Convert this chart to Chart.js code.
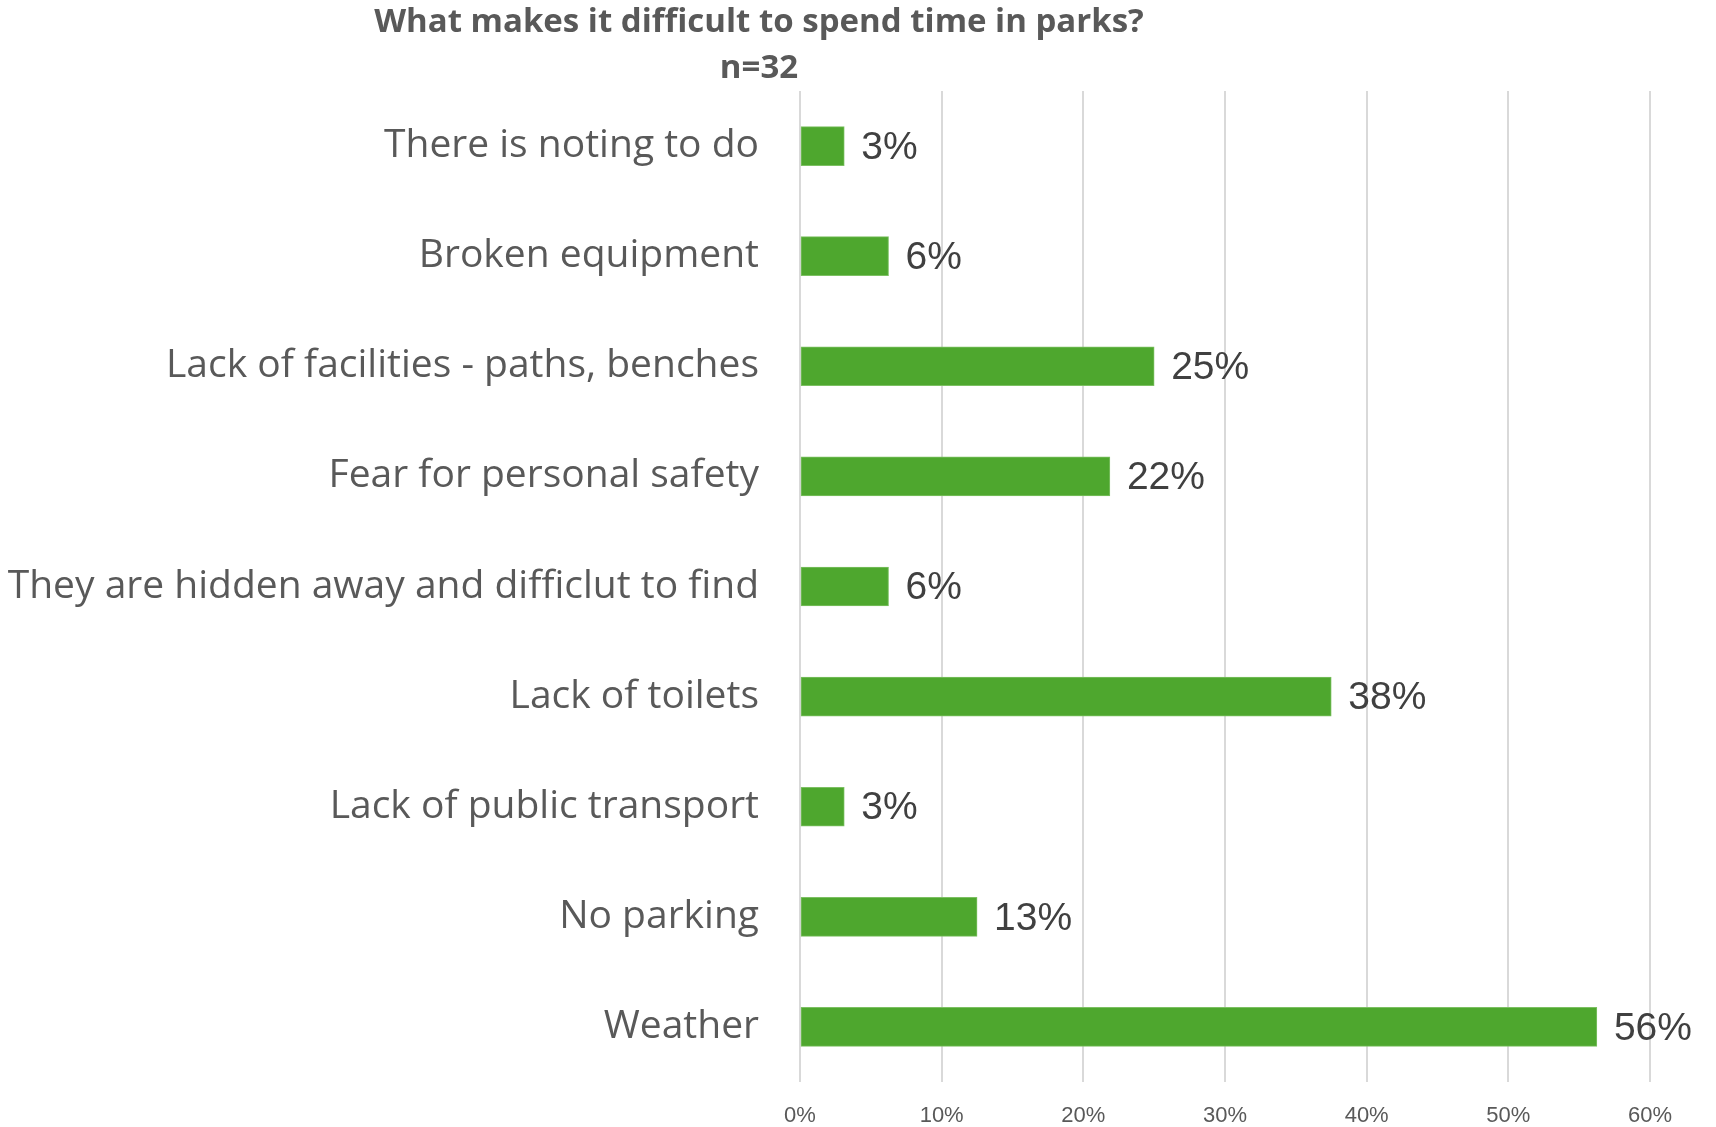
<!DOCTYPE html>
<html>
<head>
<meta charset="utf-8">
<title>What makes it difficult to spend time in parks?</title>
<script src="https://cdn.jsdelivr.net/npm/chart.js@4"></script>
<style>
    body { margin: 0; background: #fff; }
    canvas { display: block; }
</style>
</head>
<body>
<canvas id="parksChart" width="1716" height="1127"></canvas>
<script>
// Survey answers, share of respondents in %
var categories = [
    'There is noting to do',
    'Broken equipment',
    'Lack of facilities - paths, benches',
    'Fear for personal safety',
    'They are hidden away and difficlut to find',
    'Lack of toilets',
    'Lack of public transport',
    'No parking',
    'Weather'
];
var shares = [3.125, 6.25, 25, 21.875, 6.25, 37.5, 3.125, 12.5, 56.25];
var xTicks = [0, 10, 20, 30, 40, 50, 60];
var titleLines = ['What makes it difficult to spend time in parks?', 'n=32'];

var labelFont = '"Open Sans", "Noto Sans", sans-serif';

// Title, placed like the original (not centered on the canvas)
var titlePlugin = {
    id: 'sheetTitle',
    afterDraw: function(chart) {
        var ctx = chart.ctx;
        ctx.save();
        ctx.fillStyle = '#595959';
        ctx.font = 'bold 33px ' + labelFont;
        ctx.textAlign = 'center';
        ctx.textBaseline = 'alphabetic';
        ctx.fillText(titleLines[0], 759, 32);
        ctx.fillText(titleLines[1], 759, 78);
        ctx.restore();
    }
};

// Value labels at the end of each bar
var valueLabels = {
    id: 'valueLabels',
    afterDatasetsDraw: function(chart) {
        var ctx = chart.ctx;
        var meta = chart.getDatasetMeta(0);
        ctx.save();
        ctx.fillStyle = '#404040';
        ctx.font = '39px "Liberation Sans", Arial, sans-serif';
        ctx.textAlign = 'left';
        ctx.textBaseline = 'middle';
        meta.data.forEach(function(bar, i) {
            ctx.fillText(Math.round(shares[i]) + '%', bar.x + 17, bar.y + 2);
        });
        ctx.restore();
    }
};

var ctx = document.getElementById('parksChart').getContext('2d');
var parksChart = new Chart(ctx, {
    type: 'bar',
    data: {
        labels: categories,
        datasets: [{
            data: shares,
            backgroundColor: '#4ea72e',
            borderColor: '#7cc062',
            borderWidth: 1,
            borderSkipped: false,
            barThickness: 39
        }]
    },
    options: {
        indexAxis: 'y',
        responsive: false,
        animation: false,
        layout: {
            padding: { top: 91, right: 66, left: 0, bottom: 0 }
        },
        plugins: {
            legend: { display: false },
            tooltip: { enabled: false }
        },
        scales: {
            x: {
                min: xTicks[0],
                max: xTicks[xTicks.length - 1],
                afterBuildTicks: function(scale) {
                    scale.ticks = xTicks.map(function(v) { return { value: v }; });
                },
                afterFit: function(scale) {
                    scale.height = 45;
                    scale.paddingLeft = 0;
                    scale.paddingRight = 0;
                },
                grid: {
                    color: '#d9d9d9',
                    lineWidth: 2,
                    drawTicks: false
                },
                border: { display: false },
                ticks: {
                    padding: 21,
                    color: '#595959',
                    font: { family: '"Liberation Sans", Arial, sans-serif', size: 22 },
                    callback: function(value) { return value + '%'; }
                }
            },
            y: {
                afterFit: function(scale) {
                    scale.width = 800;
                    // labels sit inside their bands, no overflow padding
                    scale.paddingTop = 0;
                    scale.paddingBottom = 0;
                },
                grid: { display: false },
                border: { display: false },
                ticks: {
                    padding: 33,
                    color: '#595959',
                    font: { family: labelFont, size: 39 }
                }
            }
        }
    },
    plugins: [titlePlugin, valueLabels]
});
</script>
</body>
</html>
